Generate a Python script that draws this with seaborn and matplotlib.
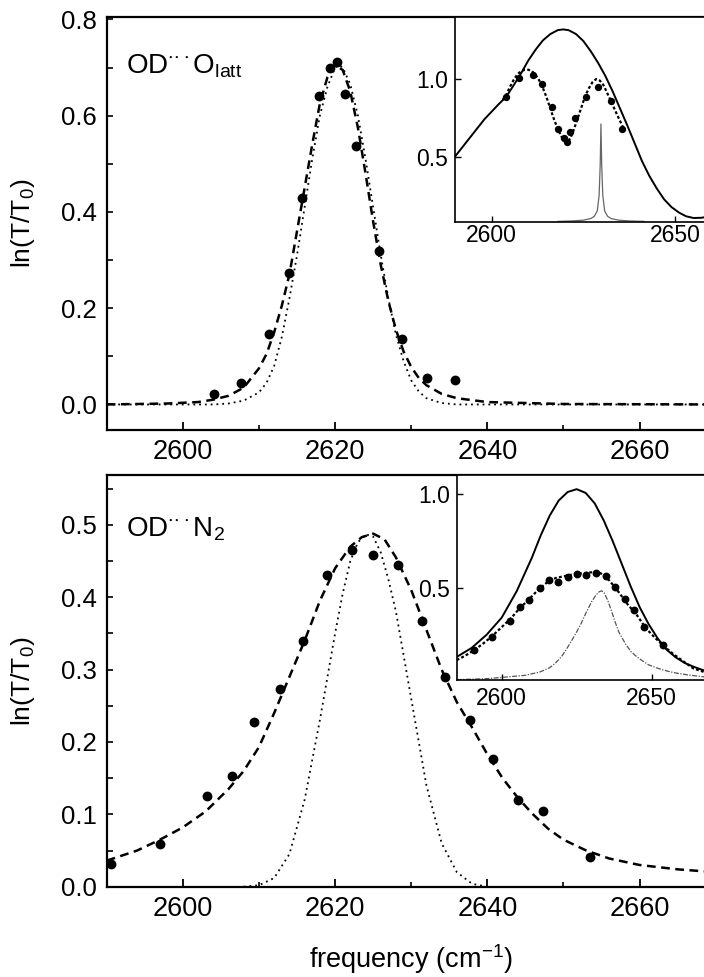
import numpy as np
import pandas as pd
import matplotlib
matplotlib.use("Agg")
import matplotlib.pyplot as plt
from matplotlib.ticker import FixedLocator, FormatStrFormatter
import seaborn as sns

# ---------------- data ----------------
# Top panel: OD...O_latt
top_pts_x = [2604.1, 2607.7, 2611.3, 2613.9, 2615.6, 2617.9, 2619.3, 2620.2, 2621.3,
             2622.8, 2625.8, 2628.8, 2632.1, 2635.8]
top_pts_y = [0.021, 0.044, 0.147, 0.273, 0.428, 0.640, 0.699, 0.712, 0.645,
             0.536, 0.318, 0.135, 0.054, 0.050]

top_dash_x = [2590, 2598, 2602, 2604, 2606, 2608, 2610, 2611, 2612, 2613, 2614, 2615, 2616,
              2617, 2618, 2619, 2620, 2621, 2622, 2623, 2624, 2625, 2626, 2627, 2628, 2629,
              2630, 2631, 2632, 2634, 2636, 2640, 2650, 2670]
top_dash_y = [0.0, 0.002, 0.005, 0.010, 0.018, 0.035, 0.075, 0.105, 0.150, 0.205, 0.270,
              0.360, 0.450, 0.540, 0.625, 0.680, 0.705, 0.695, 0.650, 0.575, 0.480, 0.380,
              0.290, 0.215, 0.155, 0.110, 0.078, 0.055, 0.040, 0.022, 0.013, 0.005, 0.001, 0.0]

top_dot_x = [2590, 2604, 2606, 2608, 2610, 2611, 2612, 2613, 2614, 2615, 2616, 2617, 2618,
             2619, 2620, 2620.5, 2621, 2622, 2623, 2624, 2625, 2626, 2627, 2628, 2629, 2630,
             2631, 2632, 2634, 2636, 2670]
top_dot_y = [0.0, 0.0, 0.002, 0.008, 0.025, 0.045, 0.080, 0.140, 0.220, 0.310, 0.410, 0.510,
             0.600, 0.660, 0.700, 0.705, 0.700, 0.665, 0.600, 0.510, 0.410, 0.310, 0.220,
             0.145, 0.090, 0.050, 0.027, 0.013, 0.003, 0.0, 0.0]

# Top inset
ti_pts_x = [2603.9, 2607.5, 2611.2, 2613.8, 2616.4, 2618.0, 2619.7, 2620.5, 2621.4,
            2622.7, 2625.7, 2629.1, 2632.5, 2635.6]
ti_pts_y = [0.886, 1.008, 1.026, 0.968, 0.822, 0.676, 0.618, 0.597, 0.657,
            0.747, 0.886, 0.946, 0.860, 0.676]

ti_solid_x = [2590, 2592, 2595, 2598, 2600, 2602, 2604, 2606, 2608, 2610, 2612, 2614, 2616,
              2618, 2619.5, 2621, 2623, 2625, 2627, 2629, 2631, 2633, 2635, 2637, 2639, 2641,
              2643, 2645, 2647, 2649, 2651, 2653, 2655, 2657, 2660]
ti_solid_y = [0.50, 0.56, 0.65, 0.74, 0.79, 0.84, 0.886, 0.96, 1.036, 1.12, 1.19, 1.25, 1.29,
              1.315, 1.32, 1.315, 1.29, 1.245, 1.18, 1.105, 1.02, 0.92, 0.81, 0.70, 0.585,
              0.47, 0.375, 0.295, 0.225, 0.175, 0.14, 0.115, 0.104, 0.105, 0.115]

ti_dot_x = [2603, 2604, 2605, 2606, 2607, 2608, 2609, 2610, 2611, 2612, 2613, 2614, 2615,
            2616, 2617, 2618, 2619, 2620, 2620.7, 2621.5, 2622.5, 2623.5, 2624.5, 2625.5,
            2626.5, 2627.5, 2628.5, 2629.5, 2630.5, 2631.5, 2632.5, 2634, 2636]
ti_dot_y = [0.865, 0.90, 0.95, 0.995, 1.03, 1.05, 1.06, 1.06, 1.05, 1.025, 0.99, 0.94, 0.88,
            0.81, 0.74, 0.68, 0.63, 0.60, 0.595, 0.62, 0.68, 0.75, 0.82, 0.89, 0.94, 0.98,
            1.0, 0.99, 0.96, 0.91, 0.86, 0.78, 0.68]

ti_sharp_x = [2618, 2622, 2625, 2627, 2628, 2628.8, 2629.3, 2629.6, 2629.8, 2630.0, 2630.3,
              2630.8, 2631.6, 2632.6, 2634.6, 2637.6, 2641.6]
ti_sharp_y = [0.082, 0.085, 0.09, 0.10, 0.115, 0.15, 0.25, 0.45, 0.71, 0.45, 0.25, 0.15,
              0.115, 0.10, 0.09, 0.085, 0.082]

# Bottom panel: OD...N2
bot_pts_x = [2590.6, 2597.0, 2603.2, 2606.5, 2609.4, 2612.7, 2615.8, 2618.9, 2622.2,
             2625.0, 2628.3, 2631.4, 2634.5, 2637.7, 2640.8, 2644.0, 2647.3, 2653.5]
bot_pts_y = [0.031, 0.059, 0.125, 0.153, 0.227, 0.273, 0.339, 0.431, 0.466,
             0.459, 0.444, 0.367, 0.290, 0.231, 0.176, 0.120, 0.105, 0.041]

bot_dash_x = [2590, 2594, 2597, 2600, 2603, 2606, 2608, 2610, 2612, 2614, 2616, 2618, 2620,
              2622, 2623.5, 2625, 2626.5, 2628, 2630, 2632, 2634, 2636, 2638, 2640, 2642,
              2644, 2646, 2648, 2650, 2653, 2656, 2660, 2665, 2670]
bot_dash_y = [0.036, 0.050, 0.065, 0.082, 0.104, 0.135, 0.160, 0.193, 0.240, 0.290, 0.340,
              0.395, 0.440, 0.470, 0.483, 0.488, 0.480, 0.455, 0.410, 0.355, 0.300, 0.255,
              0.220, 0.183, 0.150, 0.123, 0.100, 0.080, 0.065, 0.050, 0.039, 0.030, 0.024, 0.020]

bot_dot_x = [2608, 2610, 2612, 2614, 2616, 2618, 2620, 2621, 2622, 2623, 2624, 2625, 2626,
             2627, 2628, 2630, 2632, 2634, 2636, 2638, 2640]
bot_dot_y = [0.0, 0.002, 0.012, 0.045, 0.120, 0.230, 0.350, 0.405, 0.450, 0.476, 0.487,
             0.484, 0.462, 0.425, 0.380, 0.260, 0.140, 0.060, 0.020, 0.004, 0.0]

# Bottom inset
bi_pts_x = [2590.6, 2596.7, 2602.8, 2606.1, 2609.2, 2612.6, 2615.6, 2618.9, 2622.2,
            2625.0, 2628.1, 2631.4, 2634.6, 2637.8, 2641.1, 2644.2, 2647.4, 2653.9]
bi_pts_y = [0.173, 0.243, 0.328, 0.402, 0.438, 0.500, 0.544, 0.535, 0.558,
            0.576, 0.569, 0.583, 0.565, 0.508, 0.446, 0.385, 0.296, 0.200]

bi_solid_x = [2585, 2590, 2595, 2600, 2605, 2610, 2613, 2616, 2619, 2622, 2625, 2628, 2631,
              2634, 2637, 2640, 2643, 2646, 2649, 2652, 2655, 2658, 2661, 2664, 2667, 2670]
bi_solid_y = [0.137, 0.185, 0.255, 0.345, 0.485, 0.66, 0.78, 0.885, 0.965, 1.01, 1.025,
              1.005, 0.95, 0.86, 0.75, 0.63, 0.51, 0.40, 0.31, 0.235, 0.175, 0.135, 0.105,
              0.085, 0.068, 0.057]

bi_dot_x = [2585, 2588, 2591, 2594, 2597, 2600, 2603, 2606, 2609, 2612, 2615, 2618, 2621,
            2624, 2627, 2630, 2633, 2636, 2639, 2642, 2645, 2648, 2651, 2654, 2657, 2660,
            2664, 2670]
bi_dot_y = [0.12, 0.145, 0.175, 0.21, 0.25, 0.295, 0.34, 0.395, 0.44, 0.49, 0.53, 0.555,
            0.565, 0.575, 0.58, 0.585, 0.58, 0.54, 0.48, 0.415, 0.36, 0.29, 0.24, 0.195,
            0.155, 0.12, 0.075, 0.045]

bi_dd_x = [2585, 2595, 2601.7, 2608, 2612.8, 2616, 2618, 2620, 2621.4, 2623, 2624.7, 2626.5,
           2628, 2630, 2631.4, 2632.5, 2633.3, 2634.2, 2635.3, 2636.5, 2637.6, 2639, 2639.9,
           2641.5, 2643.2, 2645, 2646.6, 2649, 2652.2, 2655, 2657.7, 2662, 2667.7, 2670]
bi_dd_y = [0.017, 0.022, 0.031, 0.04, 0.058, 0.08, 0.106, 0.14, 0.173, 0.215, 0.261, 0.315,
           0.367, 0.43, 0.464, 0.482, 0.487, 0.475, 0.438, 0.385, 0.332, 0.27, 0.244, 0.2,
           0.164, 0.138, 0.12, 0.095, 0.076, 0.063, 0.053, 0.042, 0.031, 0.029]

main_xticks = [2600, 2620, 2640, 2660]
inset_xticks = [2600, 2650]
inset_yticks = [0.5, 1.0]
top_yticks = [0.0, 0.2, 0.4, 0.6, 0.8]
bot_yticks = [0.0, 0.1, 0.2, 0.3, 0.4, 0.5]

label_top = r'OD$^{\cdot\!\cdot\!\cdot}$O$_{\mathrm{latt}}$'
label_bot = r'OD$^{\cdot\!\cdot\!\cdot}$N$_{2}$'
xlabel = r'frequency (cm$^{-1}$)'
ylabel = r'ln(T/T$_{0}$)'

# ---------------- style ----------------
sns.set_theme(style="ticks")
plt.rcParams['font.family'] = ['Liberation Sans', 'DejaVu Sans']
plt.rcParams['mathtext.fontset'] = 'custom'
plt.rcParams['mathtext.rm'] = 'Liberation Sans'
plt.rcParams['mathtext.it'] = 'Liberation Sans:italic'
plt.rcParams['mathtext.bf'] = 'Liberation Sans:bold'
plt.rcParams['mathtext.default'] = 'regular'
plt.rcParams['axes.linewidth'] = 1.5
for key in ('text.color', 'axes.labelcolor', 'xtick.color', 'ytick.color',
            'axes.edgecolor', 'xtick.labelcolor', 'ytick.labelcolor'):
    plt.rcParams[key] = 'black'

W, H = 704, 977
fig = plt.figure(figsize=(W / 100, H / 100), dpi=100)


def rect(l, t, r, b):
    return [l / W, 1 - b / H, (r - l) / W, (b - t) / H]


ax1 = fig.add_axes(rect(106.7, 17, 715.7, 429.5))
ax2 = fig.add_axes(rect(106.7, 475, 715.7, 886.7))
ins1 = fig.add_axes(rect(455, 17, 711.7, 221.7))
ins2 = fig.add_axes(rect(456.7, 475, 711.7, 680))

K = 'black'


def line(ax, x, y, **kw):
    df = pd.DataFrame({'x': x, 'y': y})
    sns.lineplot(data=df, x='x', y='y', ax=ax, sort=False, legend=False, **kw)


def dots(ax, x, y, s):
    df = pd.DataFrame({'x': x, 'y': y})
    sns.scatterplot(data=df, x='x', y='y', ax=ax, color=K, s=s, linewidth=0, legend=False,
                    zorder=5)


# top main
line(ax1, top_dash_x, top_dash_y, color=K, lw=1.8, linestyle=(0, (3.5, 2.2)))
line(ax1, top_dot_x, top_dot_y, color=K, lw=1.3, linestyle=(0, (1, 2.2)))
dots(ax1, top_pts_x, top_pts_y, 50)
ax1.set_xlim(2590, 2670)
ax1.set_ylim(-0.052, 0.805)
ax1.yaxis.set_major_locator(FixedLocator(top_yticks))
ax1.yaxis.set_minor_locator(FixedLocator([0.1, 0.3, 0.5, 0.7]))
ax1.text(0.032, 0.862, label_top, transform=ax1.transAxes, fontsize=20, va='baseline',
         ha='left')

# bottom main
line(ax2, bot_dash_x, bot_dash_y, color=K, lw=1.8, linestyle=(0, (3.5, 2.2)))
line(ax2, bot_dot_x, bot_dot_y, color=K, lw=1.3, linestyle=(0, (1, 2.2)))
dots(ax2, bot_pts_x, bot_pts_y, 50)
ax2.set_xlim(2590, 2670)
ax2.set_ylim(0.0, 0.569)
ax2.yaxis.set_major_locator(FixedLocator(bot_yticks))
ax2.yaxis.set_minor_locator(FixedLocator([0.05, 0.15, 0.25, 0.35, 0.45, 0.55]))
ax2.text(0.032, 0.850, label_bot, transform=ax2.transAxes, fontsize=20, va='baseline',
         ha='left')

for ax in (ax1, ax2):
    ax.xaxis.set_major_locator(FixedLocator(main_xticks))
    ax.xaxis.set_minor_locator(FixedLocator([2610, 2630, 2650, 2670]))
    ax.tick_params(axis='x', which='major', direction='in', length=6, width=1.3,
                   labelsize=19.5, pad=7)
    ax.tick_params(axis='x', which='minor', direction='in', length=3.5, width=1.2)
    ax.tick_params(axis='y', which='both', direction='in', length=4, width=1.2,
                   labelsize=18.5, pad=7)
    ax.set_xlabel('')
    ax.set_ylabel(ylabel, fontsize=19)
    ax.yaxis.set_label_coords(-0.115, 0.5)
    ax.yaxis.set_major_formatter(FormatStrFormatter('%.1f'))
    for sp in ax.spines.values():
        sp.set_linewidth(1.6)

ax2.set_xlabel(xlabel, fontsize=19.5)
ax2.xaxis.set_label_coords(0.5, -0.136)

# top inset
ins1.set_facecolor('white')
line(ins1, ti_solid_x, ti_solid_y, color=K, lw=1.4)
line(ins1, ti_dot_x, ti_dot_y, color=K, lw=1.6, linestyle=(0, (1.3, 1.0)))
line(ins1, ti_sharp_x, ti_sharp_y, color='#666666', lw=0.9)
dots(ins1, ti_pts_x, ti_pts_y, 28)
ins1.set_xlim(2590, 2660)
ins1.set_ylim(0.08, 1.40)

# bottom inset
ins2.set_facecolor('white')
line(ins2, bi_solid_x, bi_solid_y, color=K, lw=1.4)
line(ins2, bi_dot_x, bi_dot_y, color=K, lw=1.6, linestyle=(0, (1.3, 1.0)))
line(ins2, bi_dd_x, bi_dd_y, color='#555555', lw=0.9, linestyle=(0, (4, 1.2, 1, 1.2)))
dots(ins2, bi_pts_x, bi_pts_y, 32)
ins2.set_xlim(2585, 2670)
ins2.set_ylim(0.015, 1.10)

for ax, xpad in ((ins1, 2), (ins2, 5)):
    ax.xaxis.set_major_locator(FixedLocator(inset_xticks))
    ax.yaxis.set_major_locator(FixedLocator(inset_yticks))
    ax.yaxis.set_major_formatter(FormatStrFormatter('%.1f'))
    ax.tick_params(axis='x', direction='in', length=4, width=1.0, labelsize=16.5, pad=xpad)
    ax.tick_params(axis='y', direction='in', length=4, width=1.0, labelsize=16.5, pad=5)
    ax.set_xlabel('')
    ax.set_ylabel('')
    for sp in ax.spines.values():
        sp.set_linewidth(1.2)

fig.savefig('out.png', dpi=100)
